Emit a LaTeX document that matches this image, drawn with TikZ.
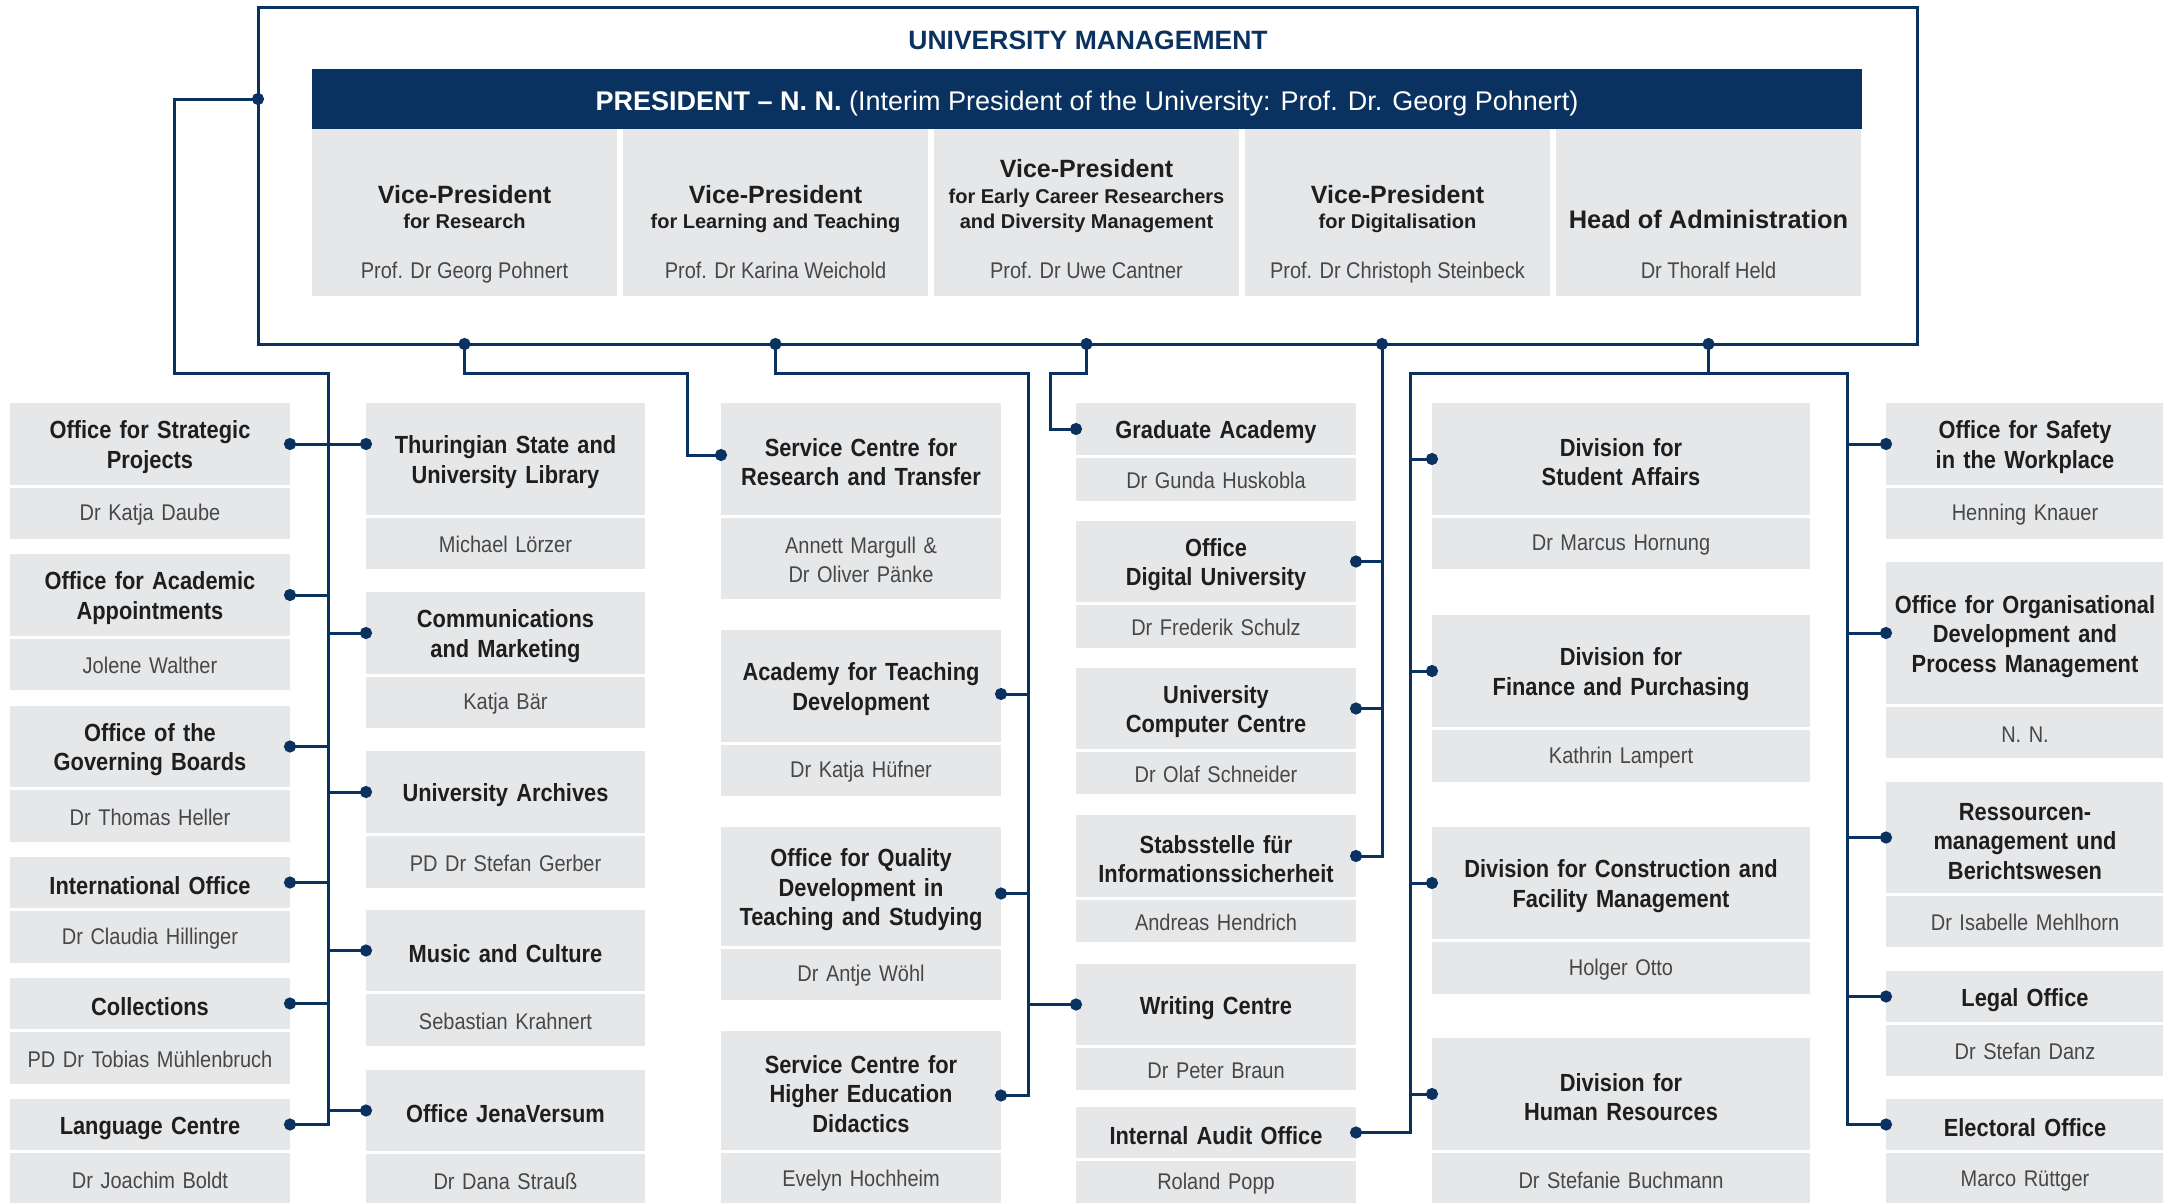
\documentclass[tikz,border=0pt]{standalone}
\usepackage{fontspec}
\setmainfont{Liberation Sans}[FakeStretch=0.88]
\newfontfamily\widefont{Liberation Sans}
\usepackage{tikz}
\usetikzlibrary{arrows.meta,calc}
\definecolor{navy}{HTML}{0A3260}
\definecolor{boxgray}{HTML}{E6E7E9}
\definecolor{ink}{HTML}{1E1E1E}
\definecolor{inkname}{HTML}{474747}
\newcommand{\ttlfont}{\fontsize{24.8}{29.4}\selectfont\bfseries}
\newcommand{\nmfont}{\fontsize{22.7}{28.7}\selectfont}
\newcommand{\orgunit}[8]{%
	\node[ttl, text width=#4pt, minimum height=#5pt] (#1) at (#2,#3) {\rule{0pt}{24.5pt}#7};
	\node[nm, text width=#4pt, minimum height=#6pt] (#1-n) at ([yshift=-3pt]#1.south west) {\rule{0pt}{19pt}#8};
}

\begin{document}
\begin{tikzpicture}[x=1pt, y=-1pt,
	ttl/.style={fill=boxgray, anchor=north west, align=center, inner xsep=0pt, inner ysep=0pt, outer sep=0pt, text=ink, font=\ttlfont},
	nm/.style={fill=boxgray, anchor=north west, align=center, inner xsep=0pt, inner ysep=0pt, outer sep=0pt, text=inkname, font=\nmfont},
	vpbox/.style={fill=boxgray, anchor=north west, minimum width=305pt, minimum height=167pt, inner sep=0pt, outer sep=0pt},
	vphead/.style={anchor=base, inner sep=0pt, text=ink, font=\widefont\fontsize{25}{30}\selectfont\bfseries},
	vpsub/.style={anchor=base, inner sep=0pt, text=ink, font=\widefont\fontsize{20}{25}\selectfont\bfseries},
	vpname/.style={anchor=base, inner sep=0pt, text=inkname, font=\nmfont},
	link/.style={draw=navy, line width=3pt},
	dotend/.style={-{Circle[length=12pt]}, shorten >=-6pt},
	dotstart/.style={{Circle[length=12pt]}-, shorten <=-6pt},
	dotboth/.style={{Circle[length=12pt]}-{Circle[length=12pt]}, shorten <=-6pt, shorten >=-6pt}]
	\useasboundingbox (0,0) rectangle (2163,1202);

	% university management
	\node[draw=navy, line width=3pt, minimum width=1659pt, minimum height=337pt, inner sep=0pt, outer sep=0pt, anchor=north west] (mgmt) at (258,7) {};
	\node[anchor=base, text=navy, font=\widefont\fontsize{26.5}{30}\selectfont\bfseries] (mgmt-t) at (1088,49) {UNIVERSITY MANAGEMENT};
	\node[fill=navy, minimum width=1550pt, minimum height=60pt, inner sep=0pt, outer sep=0pt, anchor=north west] (pres) at (312,69) {};
	\node[anchor=base, inner sep=0pt, text=white, font=\widefont\fontsize{27}{30}\selectfont] (pres-t) at (1087,110) {\textbf{PRESIDENT – N. N.} (Interim President of the University: Prof. Dr. Georg Pohnert)};

	\node[vpbox] (vp1) at (312,129) {};
	\node[vphead] (vp1-h) at ($(vp1.north)+(0,74)$) {Vice-President};
	\node[vpsub] (vp1-s) at ($(vp1.north)+(0,99)$) {for Research};
	\node[vpname] (vp1-p) at ($(vp1.north)+(0,149)$) {Prof. Dr Georg Pohnert};

	\node[vpbox] (vp2) at (623,129) {};
	\node[vphead] (vp2-h) at ($(vp2.north)+(0,74)$) {Vice-President};
	\node[vpsub] (vp2-s) at ($(vp2.north)+(0,99)$) {for Learning and Teaching};
	\node[vpname] (vp2-p) at ($(vp2.north)+(0,149)$) {Prof. Dr Karina Weichold};

	\node[vpbox] (vp3) at (934,129) {};
	\node[vphead] (vp3-h) at ($(vp3.north)+(0,48)$) {Vice-President};
	\node[vpsub] (vp3-s) at ($(vp3.north)+(0,74)$) {for Early Career Researchers};
	\node[vpsub] (vp3-t) at ($(vp3.north)+(0,99)$) {and Diversity Management};
	\node[vpname] (vp3-p) at ($(vp3.north)+(0,149)$) {Prof. Dr Uwe Cantner};

	\node[vpbox] (vp4) at (1245,129) {};
	\node[vphead] (vp4-h) at ($(vp4.north)+(0,74)$) {Vice-President};
	\node[vpsub] (vp4-s) at ($(vp4.north)+(0,99)$) {for Digitalisation};
	\node[vpname] (vp4-p) at ($(vp4.north)+(0,149)$) {Prof. Dr Christoph Steinbeck};

	\node[vpbox] (vp5) at (1556,129) {};
	\node[vphead, font=\widefont\fontsize{25.4}{30}\selectfont\bfseries] (vp5-h) at ($(vp5.north)+(0,99)$) {Head of Administration};
	\node[vpname] (vp5-p) at ($(vp5.north)+(0,149)$) {Dr Thoralf Held};

	% units
	\orgunit{spp}{10}{403}{280}{82}{51}{Office for Strategic\\Projects}{Dr Katja Daube}
	\orgunit{apt}{10}{554}{280}{82}{51}{Office for Academic\\Appointments}{Jolene Walther}
	\orgunit{gov}{10}{706}{280}{81}{52}{Office of the\\Governing Boards}{Dr Thomas Heller}
	\orgunit{intl}{10}{857}{280}{51}{52}{International Office}{Dr Claudia Hillinger}
	\orgunit{coll}{10}{978}{280}{51}{52}{Collections}{PD Dr Tobias Mühlenbruch}
	\orgunit{lang}{10}{1099}{280}{51}{52}{Language Centre}{Dr Joachim Boldt}

	\orgunit{lib}{366}{403}{279}{112}{51}{Thuringian State and\\University Library}{Michael Lörzer}
	\orgunit{com}{366}{592}{279}{82}{51}{Communications\\and Marketing}{Katja Bär}
	\orgunit{arch}{366}{751}{279}{82}{52}{University Archives}{PD Dr Stefan Gerber}
	\orgunit{mus}{366}{910}{279}{81}{52}{Music and Culture}{Sebastian Krahnert}
	\orgunit{jv}{366}{1070}{279}{81}{52}{Office JenaVersum}{Dr Dana Strauß}

	\orgunit{srt}{721}{403}{280}{112}{81}{Service Centre for\\Research and Transfer}{Annett Margull \&\\Dr Oliver Pänke}
	\orgunit{atd}{721}{630}{280}{112}{51}{Academy for Teaching\\Development}{Dr Katja Hüfner}
	\orgunit{oqd}{721}{827}{280}{119}{51}{Office for Quality\\Development in\\Teaching and Studying}{Dr Antje Wöhl}
	\orgunit{she}{721}{1031}{280}{119}{52}{Service Centre for\\Higher Education\\Didactics}{Evelyn Hochheim}

	\orgunit{grad}{1076}{403}{280}{52}{43}{Graduate Academy}{Dr Gunda Huskobla}
	\orgunit{odu}{1076}{521}{280}{81}{43}{Office\\Digital University}{Dr Frederik Schulz}
	\orgunit{ucc}{1076}{668}{280}{81}{42}{University\\Computer Centre}{Dr Olaf Schneider}
	\orgunit{isec}{1076}{815}{280}{82}{42}{Stabsstelle für\\Informationssicherheit}{Andreas Hendrich}
	\orgunit{wrc}{1076}{964}{280}{81}{42}{Writing Centre}{Dr Peter Braun}
	\orgunit{aud}{1076}{1107}{280}{51}{43}{Internal Audit Office}{Roland Popp}

	\orgunit{dsa}{1432}{403}{378}{112}{51}{Division for\\Student Affairs}{Dr Marcus Hornung}
	\orgunit{dfp}{1432}{615}{378}{112}{52}{Division for\\Finance and Purchasing}{Kathrin Lampert}
	\orgunit{dcf}{1432}{827}{378}{112}{52}{Division for Construction and\\Facility Management}{Holger Otto}
	\orgunit{dhr}{1432}{1038}{378}{112}{52}{Division for\\Human Resources}{Dr Stefanie Buchmann}

	\orgunit{saf}{1886}{403}{278}{82}{51}{Office for Safety\\in the Workplace}{Henning Knauer}
	\orgunit{ode}{1886}{562}{278}{142}{51}{Office for Organisational\\Development and\\Process Management}{N. N.}
	\orgunit{rmb}{1886}{782}{278}{111}{51}{Ressourcen-\\management und\\Berichtswesen}{Dr Isabelle Mehlhorn}
	\orgunit{leg}{1886}{971}{278}{51}{51}{Legal Office}{Dr Stefan Danz}
	\orgunit{elo}{1886}{1099}{278}{51}{52}{Electoral Office}{Marco Rüttger}

	% connectors
	\coordinate (mgL) at (mgmt.west |- pres.west);
	\coordinate (j1) at (174,373);
	\coordinate (sp1) at (328,373);
	\coordinate (k1) at (687,373);
	\coordinate (k2) at (1028,373);
	\coordinate (k3) at (1050,373);
	\coordinate (k4) at (1382,344);
	\coordinate (k5) at (1410,373);
	\coordinate (k6) at (1847,373);

	\draw[link, dotboth] (mgL) -| (j1) -- (sp1) |- (lang.east);
	\draw[link, dotstart] (spp.east) -- (spp.east -| sp1);
	\draw[link, dotstart] (apt.east) -- (apt.east -| sp1);
	\draw[link, dotstart] (gov.east) -- (gov.east -| sp1);
	\draw[link, dotstart] (intl.east) -- (intl.east -| sp1);
	\draw[link, dotstart] (coll.east) -- (coll.east -| sp1);
	\draw[link, dotend] (spp.east -| sp1) -- (spp.east -| lib.west);
	\draw[link, dotend] (com.west -| sp1) -- (com.west);
	\draw[link, dotend] (arch.west -| sp1) -- (arch.west);
	\draw[link, dotend] (mus.west -| sp1) -- (mus.west);
	\draw[link, dotend] (jv.west -| sp1) -- (jv.west);

	\draw[link, dotboth] (vp1.south |- mgmt.south) |- (k1) |- ([yshift=4pt]srt.west);

	\draw[link, dotboth] (vp2.south |- mgmt.south) |- (k2) |- ([yshift=-5pt]she.east);
	\draw[link, dotstart] ([yshift=-8pt]atd.east) -- ([yshift=-8pt]atd.east -| k2);
	\draw[link, dotstart] ([yshift=-7pt]oqd.east) -- ([yshift=-7pt]oqd.east -| k2);
	\draw[link, dotend] (wrc.west -| k2) -- (wrc.west);

	\draw[link, dotboth] (vp3.south |- mgmt.south) |- (k3) |- (grad.west);

	\draw[link, dotboth] (k4) |- (isec.east);
	\draw[link, dotstart] (odu.east) -- (odu.east -| k4);
	\draw[link, dotstart] (ucc.east) -- (ucc.east -| k4);

	\draw[link, dotstart] (vp5.south |- mgmt.south) -- (vp5.south |- k5);
	\draw[link, dotboth] (aud.east) -| (k5) -- (k6) |- (elo.west);
	\draw[link, dotend] (dsa.west -| k5) -- (dsa.west);
	\draw[link, dotend] (dfp.west -| k5) -- (dfp.west);
	\draw[link, dotend] (dcf.west -| k5) -- (dcf.west);
	\draw[link, dotend] (dhr.west -| k5) -- (dhr.west);
	\draw[link, dotend] (saf.west -| k6) -- (saf.west);
	\draw[link, dotend] (ode.west -| k6) -- (ode.west);
	\draw[link, dotend] (rmb.west -| k6) -- (rmb.west);
	\draw[link, dotend] (leg.west -| k6) -- (leg.west);
\end{tikzpicture}
\end{document}
